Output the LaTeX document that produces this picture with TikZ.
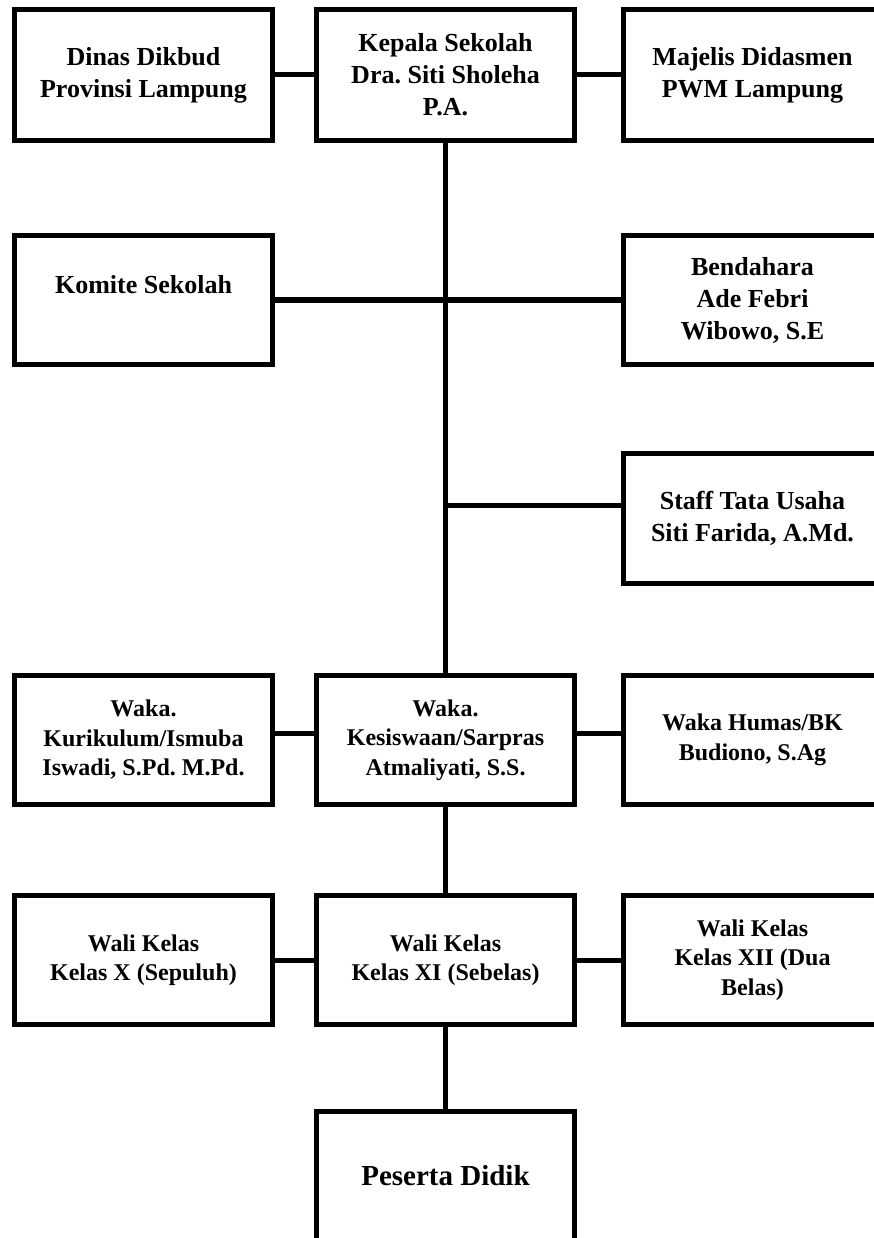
\documentclass[tikz,border=0pt]{standalone}
\usepackage{fontspec}
\setmainfont{Liberation Serif}
\usetikzlibrary{positioning}
\frenchspacing

\begin{document}
\begin{tikzpicture}[x=1pt,y=-1pt,line width=5pt,line cap=butt,line join=miter,
  orgbox/.style={draw,rectangle,minimum width=258pt,minimum height=129pt,inner sep=0pt,
    align=center,font=\bfseries\fontsize{24}{29.5}\selectfont},
  bigtext/.style={font=\bfseries\fontsize{26}{32}\selectfont}]
  \useasboundingbox (0,0) rectangle (874,1238);
  \clip (0,0) rectangle (874,1238);
  % top row
  \node[orgbox,bigtext,minimum height=131pt] (dinas) at (143.5,75) {Dinas Dikbud\\Provinsi Lampung};
  \node[orgbox,bigtext,minimum height=131pt] (kepala) at (445.5,75) {Kepala Sekolah\\Dra. Siti Sholeha\\P.A.};
  \node[orgbox,bigtext,minimum height=131pt] (majelis) at (752.5,75) {Majelis Didasmen\\PWM Lampung};
  % side boxes
  \node[orgbox,bigtext] (komite) at (143.5,300) {Komite Sekolah\\\mbox{}};
  \node[orgbox,bigtext] (bendahara) at (752.5,300) {Bendahara\\Ade Febri\\Wibowo, S.E};
  \node[orgbox,bigtext,minimum height=130pt] (staffTU) at (752.5,518.5) {Staff Tata Usaha\\Siti Farida, A.Md.};
  % waka row
  \node[orgbox] (wakaKur) at (143.5,740) {Waka.\\Kurikulum/Ismuba\\Iswadi, S.Pd. M.Pd.};
  \node[orgbox] (wakaKes) at (445.5,740) {Waka.\\Kesiswaan/Sarpras\\Atmaliyati, S.S.};
  \node[orgbox] (wakaHum) at (752.5,740) {Waka Humas/BK\\Budiono, S.Ag};
  % wali kelas row
  \node[orgbox] (waliX) at (143.5,960) {Wali Kelas\\Kelas X (Sepuluh)};
  \node[orgbox] (waliXI) at (445.5,960) {Wali Kelas\\Kelas XI (Sebelas)};
  \node[orgbox] (waliXII) at (752.5,960) {Wali Kelas\\Kelas XII (Dua\\Belas)};
  \node[orgbox,font=\bfseries\fontsize{29}{34}\selectfont] (peserta) at (445.5,1176) {Peserta Didik};
  % connectors
  \draw (dinas.east) -- (kepala.west);
  \draw (kepala.east) -- (majelis.west);
  \draw (kepala.south) -- (wakaKes.north);
  \draw (komite.east) -- (bendahara.west);
  \coordinate (tuJoint) at (445.5,505);
  \draw (tuJoint) -- (tuJoint -| staffTU.west);
  \draw ([yshift=7pt]wakaKur.east) -- ([yshift=7pt]wakaKes.west);
  \draw ([yshift=7pt]wakaKes.east) -- ([yshift=7pt]wakaHum.west);
  \draw (wakaKes.south) -- (waliXI.north);
  \draw (waliX.east) -- (waliXI.west);
  \draw (waliXI.east) -- (waliXII.west);
  \draw (waliXI.south) -- (peserta.north);
\end{tikzpicture}
\end{document}
